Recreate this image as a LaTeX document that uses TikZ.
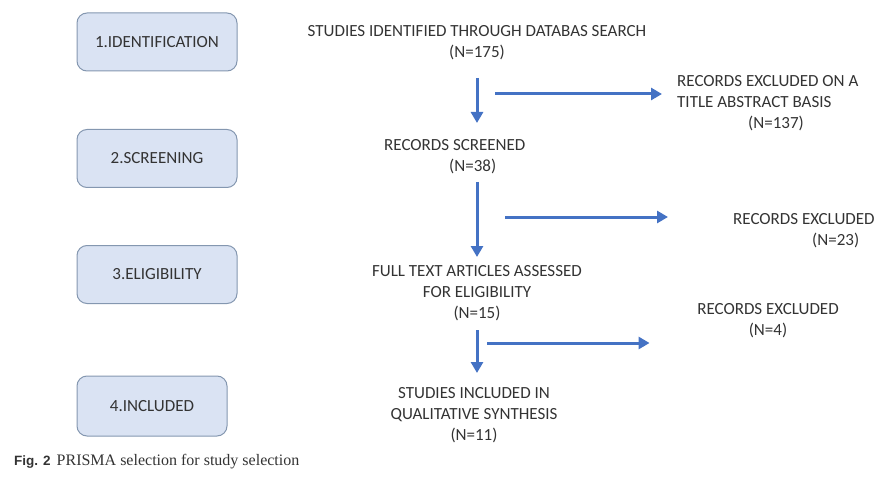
\documentclass[tikz,border=0pt]{standalone}
\usepackage{fontspec}
\setmainfont{Carlito}
\newfontfamily\figsans{Liberation Sans}
\newfontfamily\figserif{Liberation Serif}
\usepackage{xcolor}
\usetikzlibrary{arrows.meta}
\definecolor{stagefill}{HTML}{DAE3F3}
\definecolor{stageline}{HTML}{8497B0}
\definecolor{flowblue}{HTML}{4472C4}
\definecolor{txtgray}{HTML}{333333}

\begin{document}
\begin{tikzpicture}[x=1pt,y=-1pt,
  stage/.style={draw=stageline,fill=stagefill,line width=1pt,rounded corners=10pt,
    minimum width=160pt,minimum height=58pt,text=txtgray,font=\fontsize{17}{21}\selectfont},
  info/.style={text=txtgray,font=\fontsize{17}{21}\selectfont,align=center,inner sep=0pt},
  flow/.style={draw=flowblue,line width=3pt,-{Triangle[length=11pt,width=12pt]}}]
  \useasboundingbox (0,0) rectangle (880,489);
% stages on the left
  \node[stage] (ident) at (157,42) {1.IDENTIFICATION};
  \node[stage] (screen) at (157,158.5) {2.SCREENING};
  \node[stage] (elig) at (157,274.5) {3.ELIGIBILITY};
  \node[stage,minimum width=150pt,minimum height=60pt] (incl) at (152,406) {4.INCLUDED};
% main flow
  \node[info] (found) at (477,43) {STUDIES IDENTIFIED THROUGH DATABAS SEARCH\\(N=175)};
  \node[info,align=left,anchor=west] (scrd) at (384,156.5) {RECORDS SCREENED\\\hspace*{65pt}(N=38)};
  \node[info] (full) at (477,293.5) {FULL TEXT ARTICLES ASSESSED\\FOR ELIGIBILITY\\(N=15)};
  \node[info] (synth) at (474,415) {STUDIES INCLUDED IN\\QUALITATIVE SYNTHESIS\\(N=11)};
% exclusions
  \node[info,align=left,anchor=west] (excl1) at (677,103) {RECORDS EXCLUDED ON A\\TITLE ABSTRACT BASIS\\\hspace*{71pt}(N=137)};
  \node[info,align=left,anchor=west] (excl2) at (733,230.5) {RECORDS EXCLUDED\\\hspace*{79pt}(N=23)};
  \node[info] (excl3) at (768,320.5) {RECORDS EXCLUDED\\(N=4)};
  \coordinate (cut1) at (495,94);
  \coordinate (cut2) at (505,217);
  \coordinate (cut3) at (487,343);
% arrows
  \draw[flow,shorten <=35pt,shorten >=33.5pt] (found.center) -- (found.center |- scrd.center);
  \draw[flow,shorten <=25.5pt,shorten >=36.5pt] (full.center |- scrd.center) -- (full.center);
  \draw[flow,shorten <=36.5pt,shorten >=42pt] (full.center) -- (full.center |- synth.center);
  \draw[flow,shorten >=15pt] (cut1) -- (cut1 -| excl1.west);
  \draw[flow,shorten >=65pt] (cut2) -- (cut2 -| excl2.west);
  \draw[flow,shorten >=47.5pt] (cut3) -- (cut3 -| excl3.west);
% caption
  \node[anchor=west,inner sep=0pt,text=txtgray] (fig) at (14,462)
    {{\figsans\bfseries\fontsize{13.5}{15}\selectfont Fig. 2}\hspace{6pt}{\figserif\fontsize{16}{18}\selectfont PRISMA selection for study selection}};
\end{tikzpicture}
\end{document}
